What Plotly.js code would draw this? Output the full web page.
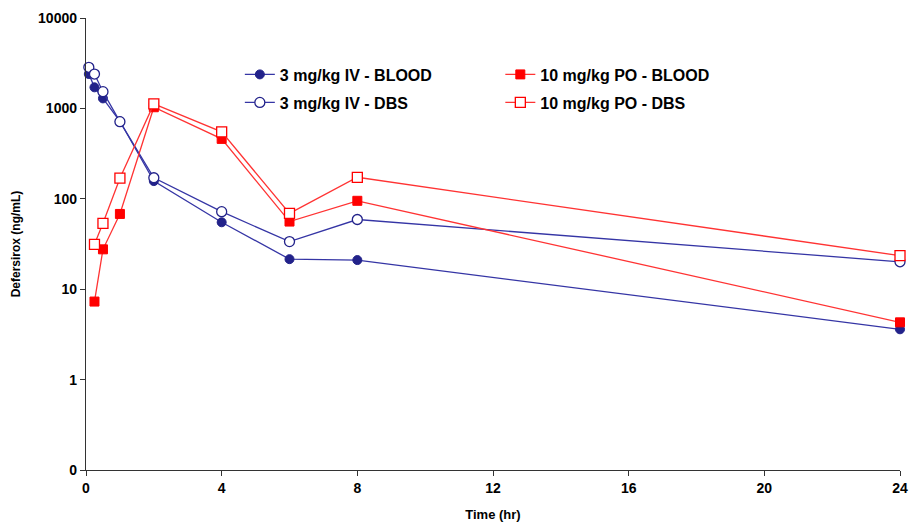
<!DOCTYPE html>
<html>
<head>
<meta charset="utf-8">
<script src="https://cdn.plot.ly/plotly-3.0.1.min.js"></script>
<style>html,body{margin:0;padding:0;background:#fff;}#chart{width:912px;height:524px;}</style>
</head>
<body>
<div id="chart"></div>
<script>
// Time points (hr)
const timeIV = [0.083, 0.25, 0.5, 1, 2, 4, 6, 8, 24];
const timePO = [0.25, 0.5, 1, 2, 4, 6, 8, 24];

// Deferasirox concentrations (ng/mL)
const ivBlood = [2400, 1710, 1290, 720, 157, 55, 21.5, 21, 3.6];
const ivDBS   = [2850, 2400, 1530, 713, 171, 72, 33.6, 59, 20.1];
const poBlood = [7.3, 27.6, 68, 1030, 460, 56, 95, 4.3];
const poDBS   = [31.4, 53.6, 169, 1120, 550, 69, 173, 23.5];

const names = ["3 mg/kg IV - BLOOD", "3 mg/kg IV - DBS", "10 mg/kg PO - BLOOD", "10 mg/kg PO - DBS"];

const yTickVals = [0.1, 1, 10, 100, 1000, 10000];
const yTickText = ["0", "1", "10", "100", "1000", "10000"];
const xTickVals = [0, 4, 8, 12, 16, 20, 24];

const blueLine = "#3535A5", blueMark = "#22228A";
const redLine = "#FF3333", redMark = "#FF0000";

const traces = [
  {x: timeIV, y: ivBlood, name: names[0], legend: "legend",
   mode: "lines+markers", line: {color: blueLine, width: 1.3},
   marker: {symbol: "circle", size: 9, color: blueMark, line: {color: blueMark, width: 1}}},
  {x: timeIV, y: ivDBS, name: names[1], legend: "legend2",
   mode: "lines+markers", line: {color: blueLine, width: 1.3},
   marker: {symbol: "circle", size: 10, color: "#ffffff", line: {color: blueMark, width: 1.3}}},
  {x: timePO, y: poBlood, name: names[2], legend: "legend3",
   mode: "lines+markers", line: {color: redLine, width: 1.3},
   marker: {symbol: "square", size: 9, color: redMark, line: {color: redMark, width: 1}}},
  {x: timePO, y: poDBS, name: names[3], legend: "legend4",
   mode: "lines+markers", line: {color: redLine, width: 1.3},
   marker: {symbol: "square", size: 10, color: "#ffffff", line: {color: redMark, width: 1.3}}}
];
traces.forEach(t => { t.cliponaxis = false; });

const F = "Liberation Sans, Arial, sans-serif";
const legFont = {family: F, size: 16, color: "#000", weight: "bold"};
function leg(x, y) {
  return {x: x, y: y, xanchor: "left", yanchor: "middle", bgcolor: "rgba(0,0,0,0)",
          borderwidth: 0, font: legFont};
}

const layout = {
  width: 912, height: 524,
  margin: {l: 86, r: 12, t: 18, b: 54},
  paper_bgcolor: "#fff", plot_bgcolor: "#fff",
  showlegend: true,
  legend: leg(0.189, 0.875),
  legend2: leg(0.189, 0.813),
  legend3: leg(0.509, 0.875),
  legend4: leg(0.509, 0.813),
  xaxis: {
    range: [0, 24], tickvals: xTickVals, ticks: "outside", ticklen: 5, tickcolor: "#333",
    showline: true, linecolor: "#333", linewidth: 1.2, showgrid: false, zeroline: false,
    tickfont: {family: F, size: 14, color: "#000", weight: "bold"},
    title: {text: "Time (hr)", font: {family: F, size: 13, color: "#000", weight: "bold"}, standoff: 14}
  },
  yaxis: {
    type: "log", range: [-1, 4], tickvals: yTickVals, ticktext: yTickText,
    ticks: "outside", ticklen: 5, tickcolor: "#333",
    showline: true, linecolor: "#333", linewidth: 1.2, showgrid: false, zeroline: false,
    tickfont: {family: F, size: 14, color: "#000", weight: "bold"},
    title: {text: "Defersirox (ng/mL)", font: {family: F, size: 12, color: "#000", weight: "bold"}, standoff: 14}
  }
};

Plotly.newPlot("chart", traces, layout, {displayModeBar: false, staticPlot: true});
</script>
</body>
</html>
